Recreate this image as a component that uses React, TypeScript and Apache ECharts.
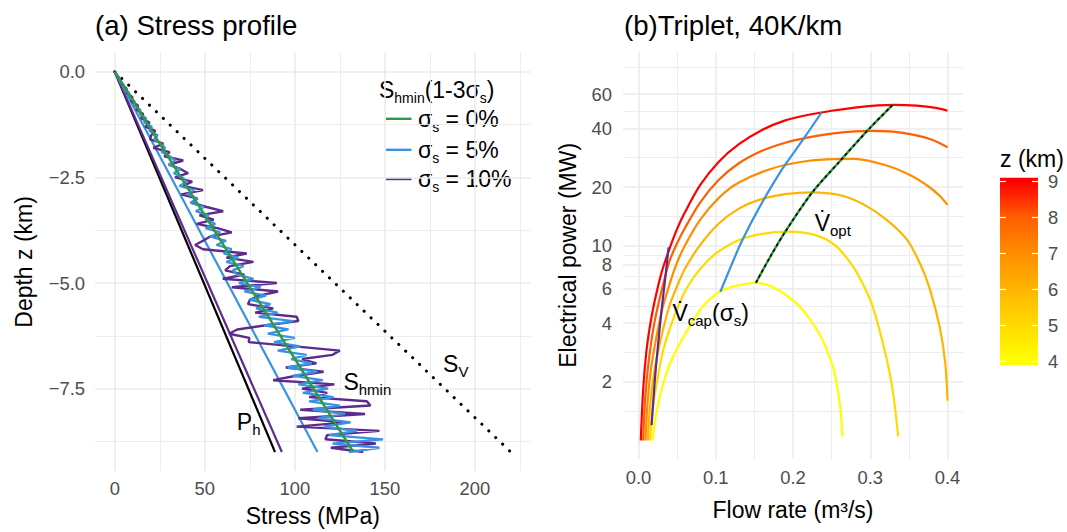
import { useEffect, useRef } from 'react';
import * as echarts from 'echarts';

const FONT = '"Liberation Sans", Arial, Helvetica, sans-serif';
const TICK_COLOR = '#4D4D4D';
const GRID_COLOR = '#EBEBEB';

// ---------------- Panel (a): stress profile ----------------
const STRESS_TICKS = [0, 50, 100, 150, 200];
const STRESS_MINOR = [25, 75, 125, 175, 225];
const DEPTH_TICKS = [0, -2.5, -5, -7.5];
const DEPTH_MINOR = [-1.25, -3.75, -6.25, -8.75];

const LINE_DEPTH = [0, -9];
const SV_STRESS = [0, 220];
const PH_STRESS = [0, 89];
const SHMIN_STRESS = [0, 132.5];
const CAP5_STRESS = [0, 112.6];
const CAP10_STRESS = [0, 92.8];

const NOISE_DEPTH = [
  0, -0.1, -0.2, -0.3, -0.4, -0.5, -0.6, -0.7, -0.8, -0.9,
  -1.0, -1.1, -1.2, -1.3, -1.4, -1.5, -1.6, -1.7, -1.8, -1.9,
  -2.0, -2.1, -2.2, -2.3, -2.4, -2.5, -2.6, -2.7, -2.8, -2.9,
  -3.0, -3.1, -3.2, -3.3, -3.4, -3.5, -3.6, -3.7, -3.8, -3.9,
  -4.0, -4.1, -4.2, -4.3, -4.4, -4.5, -4.6, -4.7, -4.8, -4.9,
  -5.0, -5.1, -5.2, -5.3, -5.4, -5.5, -5.6, -5.7, -5.8, -5.9,
  -6.0, -6.1, -6.2, -6.3, -6.4, -6.5, -6.6, -6.7, -6.8, -6.9,
  -7.0, -7.1, -7.2, -7.3, -7.4, -7.5, -7.6, -7.7, -7.8, -7.9,
  -8.0, -8.1, -8.2, -8.3, -8.4, -8.5, -8.6, -8.7, -8.8, -8.9,
  -9.0,
];
// sigma_s = 5 %
const SHMIN_S5 = [
  0, 1.5, 2.7, 4.8, 5.5, 7.9, 8.4, 11.0, 11.0, 14.2,
  13.8, 17.4, 16.4, 20.6, 19.2, 23.8, 21.8, 25.5, 27.9, 26.0,
  30.6, 33.5, 29.8, 36.4, 32.8, 37.5, 39.8, 36.0, 44.0, 40.5,
  46.0, 42.0, 49.5, 45.0, 52.0, 50.5, 55.8, 50.5, 58.6, 53.0,
  61.8, 56.5, 64.9, 60.5, 68.5, 62.0, 71.5, 65.5, 68.0, 77.0,
  69.0, 81.0, 72.0, 84.0, 75.0, 86.5, 78.5, 90.5, 80.0, 99.0,
  83.0, 96.5, 85.0, 100.0, 88.5, 103.0, 90.5, 106.5, 98.0, 109.5,
  96.0, 112.5, 99.0, 115.5, 102.0, 118.5, 104.5, 121.5, 108.0, 125.0,
  110.0, 128.0, 113.0, 131.0, 116.0, 134.5, 119.0, 149.0, 121.0, 147.0,
  130.0,
];
// sigma_s = 10 %
const SHMIN_S10 = [
  0, 1.6, 3.2, 4.0, 6.5, 6.8, 9.8, 9.3, 12.9, 12.0,
  15.8, 14.6, 19.3, 17.0, 22.5, 20.3, 19.6, 27.0, 21.4, 30.5,
  27.5, 38.0, 30.0, 36.5, 40.7, 33.5, 43.0, 38.0, 49.0, 37.0,
  46.0, 42.5, 51.0, 60.2, 47.0, 55.0, 45.5, 57.0, 65.0, 53.0,
  49.0, 44.6, 49.0, 73.3, 62.0, 77.0, 64.0, 61.3, 72.0, 60.0,
  90.0, 65.0, 90.7, 80.0, 75.0, 74.0, 88.0, 78.0, 101.0, 102.0,
  84.0, 68.0, 63.5, 74.7, 74.4, 100.0, 125.0, 121.0, 104.0, 112.0,
  95.0, 116.0, 100.0, 88.0, 122.0, 104.0, 118.0, 108.0, 140.0, 142.0,
  103.0, 139.0, 102.0, 128.0, 101.0, 147.0, 118.0, 117.0, 145.0, 120.0,
  138.0,
];

const LABEL_SHMIN_AT = [127, -7.34];
const LABEL_SV_AT = [182.4, -6.92];
const LABEL_PH_AT = [67.8, -8.28];

// ---------------- Panel (b): triplet ----------------
const FLOW_TICKS = [0, 0.1, 0.2, 0.3, 0.4];
const FLOW_MINOR = [0.05, 0.15, 0.25, 0.35];
const POWER_TICKS = [2, 4, 6, 8, 10, 20, 40, 60];
const POWER_MINOR = [1.41, 2.83, 4.9, 6.93, 8.94, 14.1, 28.3, 49, 82];

const Z_LEVELS = [4, 5, 6, 7, 8, 9];
const Z_COLORS = ['#FFFF00', '#FFDB00', '#FFB500', '#FF8D00', '#FF5F00', '#FF0000'];

const CURVE_Z4 = [[0.018, 1.0], [0.022, 1.3], [0.028, 1.7], [0.036, 2.2], [0.045, 2.7], [0.06, 3.5], [0.082, 4.8], [0.105, 5.8], [0.125, 6.2], [0.152, 6.45], [0.175, 6.1], [0.2035, 5.1], [0.22, 4.3], [0.238, 3.3], [0.25, 2.5], [0.2555, 2.06], [0.261, 1.5], [0.264, 1.05]];
const CURVE_Z5 = [[0.015, 1.0], [0.018, 1.4], [0.024, 2.0], [0.032, 2.9], [0.042, 3.9], [0.06, 5.8], [0.08, 7.6], [0.1, 9.1], [0.13, 10.7], [0.16, 11.5], [0.195, 11.8], [0.23, 11.3], [0.255, 10.0], [0.277, 7.9], [0.29, 6.4], [0.303, 4.9], [0.3205, 2.7], [0.33, 1.7], [0.336, 1.05]];
const CURVE_Z6 = [[0.012, 1.0], [0.015, 1.5], [0.02, 2.2], [0.028, 3.2], [0.04, 4.9], [0.05, 6.2], [0.06, 7.6], [0.08, 10.1], [0.104, 13.0], [0.13, 15.5], [0.156, 17.2], [0.19, 18.4], [0.225, 18.8], [0.26, 18.2], [0.29, 16.4], [0.32, 13.7], [0.347, 10.8], [0.365, 8.0], [0.377, 6.0], [0.39, 3.8], [0.397, 2.5], [0.4, 1.6]];
const CURVE_Z7 = [[0.009, 1.0], [0.012, 1.6], [0.016, 2.3], [0.022, 3.2], [0.03, 4.6], [0.04, 6.3], [0.05, 8.2], [0.06, 10.0], [0.08, 13.6], [0.104, 17.6], [0.13, 21.1], [0.17, 24.7], [0.21, 26.9], [0.25, 27.8], [0.28, 27.9], [0.32, 25.9], [0.35, 23.2], [0.375, 20.2], [0.39, 18.0], [0.4, 16.2]];
const CURVE_Z8 = [[0.006, 1.0], [0.009, 1.7], [0.013, 2.5], [0.02, 3.9], [0.03, 5.9], [0.04, 8.3], [0.05, 10.3], [0.06, 12.3], [0.08, 16.7], [0.104, 21.8], [0.13, 26.5], [0.16, 30.7], [0.19, 33.8], [0.22, 36.0], [0.25, 37.6], [0.28, 38.6], [0.3, 38.9], [0.33, 38.5], [0.355, 37.2], [0.38, 35.0], [0.4, 32.0]];
const CURVE_Z9 = [[0.003, 1.0], [0.006, 1.8], [0.01, 2.8], [0.015, 3.9], [0.021, 5.2], [0.03, 7.3], [0.04, 9.6], [0.05, 12.2], [0.06, 14.8], [0.08, 20.5], [0.104, 27.0], [0.13, 33.2], [0.16, 39.3], [0.19, 44.0], [0.22, 47.0], [0.25, 49.3], [0.28, 51.2], [0.31, 52.5], [0.33, 52.9], [0.36, 52.4], [0.385, 51.0], [0.4, 49.3]];
const CURVES = [CURVE_Z4, CURVE_Z5, CURVE_Z6, CURVE_Z7, CURVE_Z8, CURVE_Z9];

const VCAP_S5 = [[0.106, 5.8], [0.12, 7.9], [0.134, 10.6], [0.156, 15.6], [0.186, 24.7], [0.212, 34.6], [0.237, 48.3]];
const VCAP_S10 = [[0.017, 1.2], [0.021, 2.0], [0.025, 3.0], [0.03, 4.7], [0.035, 7.0], [0.039, 9.8]];
const VOPT = [[0.152, 6.45], [0.17, 8.7], [0.19, 11.8], [0.225, 18.8], [0.26, 27.0], [0.299, 40.0], [0.329, 52.9]];

const LABEL_VCAP_AT = [0.044, 4.49];
const LABEL_VOPT_AT = [0.228, 13.1];

const COLORBAR_MIN = 3.9;
const COLORBAR_MAX = 9.11;

// ---------------- helpers ----------------
const zip = (xs: number[], ys: number[]) => xs.map((x, i) => [x, ys[i]]);
const toLog = (pts: number[][]) => pts.map(([q, p]) => [q, Math.log10(p)]);

const GREEN = '#2E9A3E';
const BLUE = '#3A92E3';
const PURPLE = '#5E2A8C';

const richStyles = {
  a: { fontSize: 23, fontFamily: FONT, color: '#000', lineHeight: 30, opacity: 1 },
  b: { fontSize: 15, fontFamily: FONT, color: '#000', lineHeight: 15, padding: [15, 0, 0, 0], opacity: 1 },
};

function majorSplit() {
  return { show: true, lineStyle: { color: GRID_COLOR, width: 1.6 } };
}
function minorSplit() {
  return { show: true, lineStyle: { color: GRID_COLOR, width: 0.9 } };
}
const labelStyle = { color: TICK_COLOR, fontSize: 18.4, fontFamily: FONT };
const nameStyle = { color: '#000', fontSize: 23, fontFamily: FONT };

function line(data: number[][], color: string, width: number, xi: number, yi: number, extra: any = {}) {
  return {
    type: 'line',
    data,
    xAxisIndex: xi,
    yAxisIndex: yi,
    symbol: 'none',
    silent: true,
    lineStyle: { color, width },
    ...extra,
  };
}

function annotation(at: number[], text: string, xi: number, yi: number) {
  return {
    type: 'scatter',
    xAxisIndex: xi,
    yAxisIndex: yi,
    data: [at],
    symbolSize: 0,
    silent: true,
    z: 20,
    itemStyle: { opacity: 1 },
    label: {
      show: true,
      position: 'inside',
      align: 'left',
      verticalAlign: 'middle',
      color: '#000',
      opacity: 1,
      textBorderWidth: 0,
      formatter: text,
      rich: richStyles,
    },
  };
}

function buildOption() {
  const logTicks = POWER_TICKS.map((v) => Math.log10(v));
  const logMinor = POWER_MINOR.map((v) => Math.log10(v));
  const span = COLORBAR_MAX - COLORBAR_MIN;
  const stops = Z_LEVELS.map((z, i) => ({ offset: (COLORBAR_MAX - z) / span, color: Z_COLORS[i] }))
    .reverse();
  const colorStops = [{ offset: 0, color: Z_COLORS[Z_COLORS.length - 1] }, ...stops, { offset: 1, color: Z_COLORS[0] }];

  const legendRows = [
    { color: GREEN, text: '{a|σ}{b|s}{a| = 0%}', y: 118.8 },
    { color: BLUE, text: '{a|σ}{b|s}{a| = 5%}', y: 149.8 },
    { color: PURPLE, text: '{a|σ}{b|s}{a| = 10%}', y: 179 },
  ];
  const graphicRich = {
    a: { fontSize: 23, fontFamily: FONT, fill: '#000', lineHeight: 30 },
    b: { fontSize: 14, fontFamily: FONT, fill: '#000', lineHeight: 14, padding: [16, 0, 0, 0] },
  };

  return {
    animation: false,
    backgroundColor: '#fff',
    textStyle: { fontFamily: FONT },
    title: [
      { text: '(a) Stress profile', left: 95, top: 11, padding: 0, textStyle: { fontSize: 27.6, fontWeight: 'normal', color: '#000', fontFamily: FONT } },
      { text: '(b)Triplet, 40K/km', left: 624, top: 11, padding: 0, textStyle: { fontSize: 27.6, fontWeight: 'normal', color: '#000', fontFamily: FONT } },
    ],
    grid: [
      { left: 95, top: 52.8, width: 435.6, height: 429.6 },
      { left: 623, top: 51.7, width: 340, height: 407.3 },
      { left: 1000, top: 177.7, width: 38, height: 187.3 },
    ],
    xAxis: [
      {
        type: 'value', gridIndex: 0, min: -11, max: 231,
        axisLine: { show: false },
        axisTick: { show: false, customValues: STRESS_TICKS },
        axisLabel: { ...labelStyle, customValues: STRESS_TICKS, margin: 8 },
        splitLine: majorSplit(),
        name: 'Stress (MPa)', nameLocation: 'middle', nameGap: 33, nameTextStyle: nameStyle,
      },
      {
        type: 'value', gridIndex: 0, min: -11, max: 231, position: 'bottom',
        axisLine: { show: false },
        axisTick: { show: false, customValues: STRESS_MINOR },
        axisLabel: { show: false },
        splitLine: minorSplit(),
      },
      {
        type: 'value', gridIndex: 1, min: -0.02, max: 0.42,
        axisLine: { show: false },
        axisTick: { show: false, customValues: FLOW_TICKS },
        axisLabel: { ...labelStyle, customValues: FLOW_TICKS, margin: 9, formatter: (v: number) => v.toFixed(1) },
        splitLine: majorSplit(),
        name: 'Flow rate (m³/s)', nameLocation: 'middle', nameGap: 39, nameTextStyle: nameStyle,
      },
      {
        type: 'value', gridIndex: 1, min: -0.02, max: 0.42, position: 'bottom',
        axisLine: { show: false },
        axisTick: { show: false, customValues: FLOW_MINOR },
        axisLabel: { show: false },
        splitLine: minorSplit(),
      },
      { type: 'category', gridIndex: 2, data: ['z'], show: false },
    ],
    yAxis: [
      {
        type: 'value', gridIndex: 0, min: -9.45, max: 0.45,
        axisLine: { show: false },
        axisTick: { show: false, customValues: DEPTH_TICKS },
        axisLabel: {
          ...labelStyle, customValues: DEPTH_TICKS, margin: 10,
          formatter: (v: number) => (v < 0 ? '\u2212' + Math.abs(v).toFixed(1) : v.toFixed(1)),
        },
        splitLine: majorSplit(),
        name: 'Depth z (km)', nameLocation: 'middle', nameRotate: 90, nameGap: 60, nameTextStyle: nameStyle,
      },
      {
        type: 'value', gridIndex: 0, min: -9.45, max: 0.45, position: 'left',
        axisLine: { show: false },
        axisTick: { show: false, customValues: DEPTH_MINOR },
        axisLabel: { show: false },
        splitLine: minorSplit(),
      },
      {
        type: 'value', gridIndex: 1, min: -0.095, max: 1.996,
        axisLine: { show: false },
        axisTick: { show: false, customValues: logTicks },
        axisLabel: { ...labelStyle, customValues: logTicks, margin: 11, formatter: (v: number) => String(Math.round(Math.pow(10, v))) },
        splitLine: majorSplit(),
        name: 'Electrical power (MW)', nameLocation: 'middle', nameRotate: 90, nameGap: 44, nameTextStyle: nameStyle,
      },
      {
        type: 'value', gridIndex: 1, min: -0.095, max: 1.996, position: 'left',
        axisLine: { show: false },
        axisTick: { show: false, customValues: logMinor },
        axisLabel: { show: false },
        splitLine: minorSplit(),
      },
      {
        type: 'value', gridIndex: 2, min: COLORBAR_MIN, max: COLORBAR_MAX, position: 'right', z: 10,
        axisLine: { show: false },
        axisTick: { show: true, inside: true, length: 6, customValues: Z_LEVELS, lineStyle: { color: '#fff', width: 1.2 } },
        axisLabel: { ...labelStyle, customValues: Z_LEVELS, margin: 10 },
        splitLine: { show: false },
      },
      {
        type: 'value', gridIndex: 2, min: COLORBAR_MIN, max: COLORBAR_MAX, position: 'left', z: 10,
        axisLine: { show: false },
        axisTick: { show: true, inside: true, length: 6, customValues: Z_LEVELS, lineStyle: { color: '#fff', width: 1.2 } },
        axisLabel: { show: false },
        splitLine: { show: false },
      },
    ],
    graphic: [
      {
        type: 'rect', z: 1,
        shape: { x: 1000, y: 177.7, width: 38, height: 187.3 },
        style: { fill: { type: 'linear', x: 0, y: 0, x2: 0, y2: 1, colorStops } },
      },
      {
        type: 'text', x: 1000, y: 158.5,
        style: { text: 'z (km)', fontSize: 23, fontFamily: FONT, fill: '#000', verticalAlign: 'middle', align: 'left' },
      },
      {
        type: 'text', x: 379, y: 89.5,
        style: {
          text: '{a|S}{b|hmin}{a|(1-3σ}{b|s}{a|)}', rich: graphicRich,
          verticalAlign: 'middle', align: 'left',
        },
      },
      ...legendRows.flatMap((r) => [
        { type: 'line', shape: { x1: 386, y1: r.y, x2: 411.5, y2: r.y }, style: { stroke: r.color, lineWidth: 2.4 } },
        {
          type: 'text', x: 418, y: r.y,
          style: { text: r.text, rich: graphicRich, verticalAlign: 'middle', align: 'left' },
        },
      ]),
    ],
    series: [
      // Panel (a)
      line(zip(SV_STRESS, LINE_DEPTH), '#000', 3, 0, 0, { lineStyle: { color: '#000', width: 3, type: [0.1, 9.5], cap: 'round' } }),
      line(zip(PH_STRESS, LINE_DEPTH), '#000', 2.2, 0, 0),
      line(zip(CAP10_STRESS, LINE_DEPTH), PURPLE, 2.2, 0, 0),
      line(zip(CAP5_STRESS, LINE_DEPTH), BLUE, 2.2, 0, 0),
      line(zip(SHMIN_S10, NOISE_DEPTH), PURPLE, 2.4, 0, 0),
      line(zip(SHMIN_S5, NOISE_DEPTH), BLUE, 2.3, 0, 0),
      line(zip(SHMIN_STRESS, LINE_DEPTH), GREEN, 2.4, 0, 0),
      annotation(LABEL_SHMIN_AT, '{a|S}{b|hmin}', 0, 0),
      annotation(LABEL_SV_AT, '{a|S}{b|V}', 0, 0),
      annotation(LABEL_PH_AT, '{a|P}{b|h}', 0, 0),
      // Panel (b)
      ...CURVES.map((c, i) => line(toLog(c), Z_COLORS[i], 2.2, 2, 2, { smooth: 0.3 })),
      line(toLog(VCAP_S10), PURPLE, 2.2, 2, 2, { smooth: 0.3 }),
      line(toLog(VCAP_S5), BLUE, 2.2, 2, 2, { smooth: 0.3 }),
      line(toLog(VOPT), GREEN, 2.4, 2, 2, { smooth: 0.3 }),
      line(toLog(VOPT), '#000', 1.6, 2, 2, { smooth: 0.3, lineStyle: { color: '#000', width: 1.6, type: [3, 3] } }),
      annotation([LABEL_VCAP_AT[0], Math.log10(LABEL_VCAP_AT[1])], '{a|V\u0307}{b|cap}{a|(σ}{b|s}{a|)}', 2, 2),
      annotation([LABEL_VOPT_AT[0], Math.log10(LABEL_VOPT_AT[1])], '{a|V\u0307}{b|opt}', 2, 2),
    ],
  };
}

export default function App() {
  const ref = useRef<HTMLDivElement>(null);
  useEffect(() => {
    if (!ref.current) return;
    const chart = echarts.init(ref.current, undefined, { renderer: 'svg' });
    chart.setOption(buildOption() as any);
    return () => chart.dispose();
  }, []);
  return (
    <div
      ref={ref}
      style={{ position: 'fixed', left: 0, top: 0, width: 1067, height: 532, background: '#fff' }}
    />
  );
}
